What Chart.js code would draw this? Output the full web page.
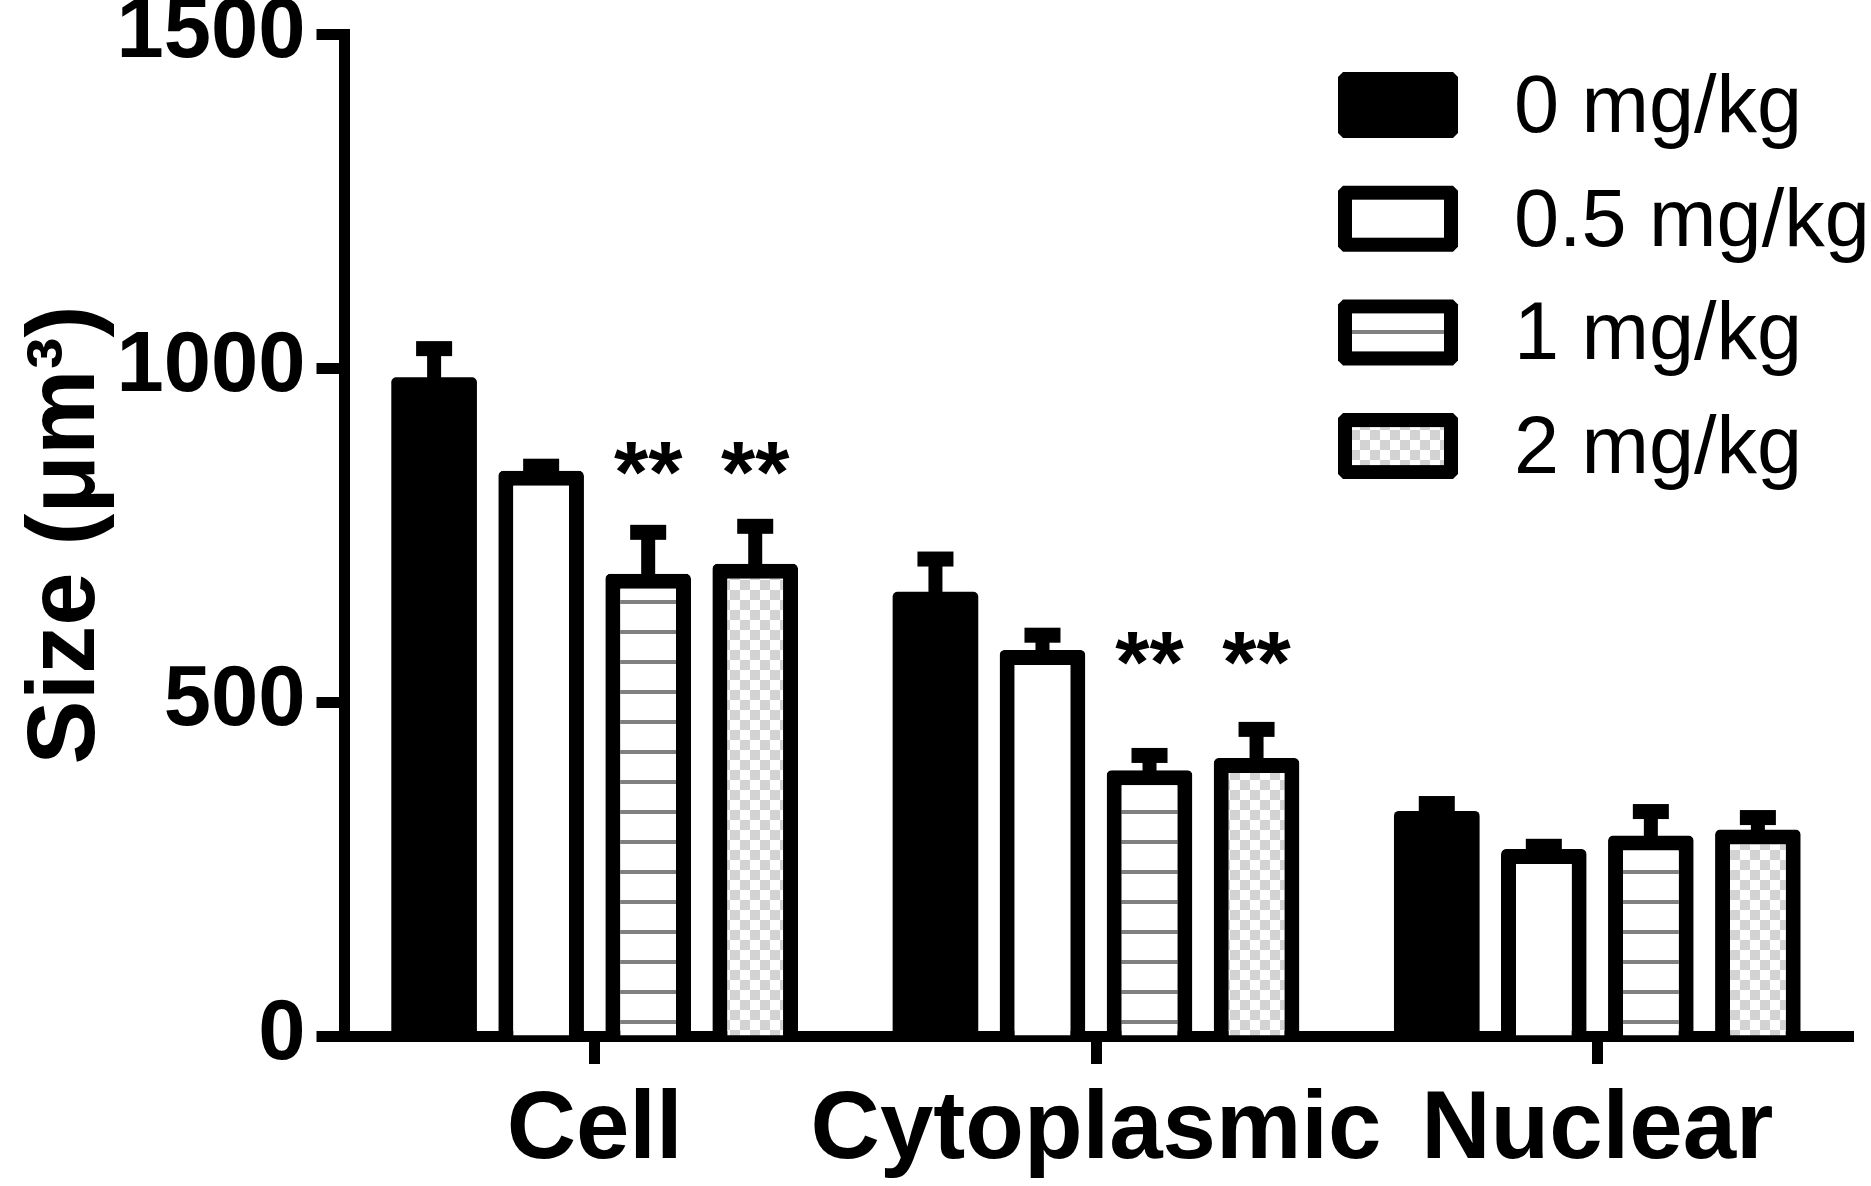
<!DOCTYPE html>
<html><head><meta charset="utf-8">
<script src="https://cdn.jsdelivr.net/npm/chart.js@4.4.0/dist/chart.umd.min.js"></script>
<style>html,body{margin:0;padding:0;background:#fff;overflow:hidden}#wrap{width:1871px;height:1186px;position:relative;background:#fff}</style>
</head><body><div id="wrap"><canvas id="c"></canvas></div>
<script>
// ---- data ----
const categories = ['Cell', 'Cytoplasmic', 'Nuclear'];
const seriesLabels = ['0 mg/kg', '0.5 mg/kg', '1 mg/kg', '2 mg/kg'];
const mean0  = [986, 665, 337];
const mean05 = [846, 578, 280];
const mean1  = [692, 398, 300];
const mean2  = [707, 416, 309];
const err0  = [43, 49, 11];
const err05 = [7, 22, 4];
const err1  = [62, 22, 36];
const err2  = [56, 43, 18];
const sig1 = ['**', '**', ''];
const sig2 = ['**', '**', ''];
const sigLevel = [874, 590, null];
const yTicks = [0, 500, 1000, 1500];

// ---- patterns ----
function hatchPattern() {
  const c = document.createElement('canvas'); c.width = 8; c.height = 30;
  const x = c.getContext('2d');
  x.fillStyle = '#ffffff'; x.fillRect(0, 0, 8, 30);
  x.fillStyle = '#808080'; x.fillRect(0, 0, 8, 4);
  return x.createPattern(c, 'repeat');
}
function checkerPattern() {
  const c = document.createElement('canvas'); c.width = 20; c.height = 20;
  const x = c.getContext('2d');
  x.fillStyle = '#ffffff'; x.fillRect(0, 0, 20, 20);
  x.fillStyle = '#d3d3d3'; x.fillRect(0, 0, 10, 10); x.fillRect(10, 10, 10, 10);
  return x.createPattern(c, 'repeat');
}

const FONT = "'Liberation Sans', Arial, Helvetica, sans-serif";
Chart.defaults.font.family = FONT;
Chart.defaults.color = '#000';

const common = {
  borderColor: '#000', borderWidth: 15, borderSkipped: 'bottom', borderRadius: 5,
  categoryPercentage: 0.854, barPercentage: 0.8
};
const datasets = [
  Object.assign({}, common, {label: seriesLabels[0], data: mean0,  err: err0,  backgroundColor: '#000', borderWidth: 0}),
  Object.assign({}, common, {label: seriesLabels[1], data: mean05, err: err05, backgroundColor: '#fff'}),
  Object.assign({}, common, {label: seriesLabels[2], data: mean1,  err: err1,  backgroundColor: hatchPattern(), sig: sig1}),
  Object.assign({}, common, {label: seriesLabels[3], data: mean2,  err: err2,  backgroundColor: checkerPattern(), sig: sig2})
];

const errorBars = {
  id: 'errorBars',
  afterDatasetsDraw(chart) {
    const ctx = chart.ctx, y = chart.scales.y;
    ctx.save();
    ctx.fillStyle = '#000';
    chart.data.datasets.forEach((ds, di) => {
      const meta = chart.getDatasetMeta(di);
      meta.data.forEach((bar, i) => {
        const v = ds.data[i], e = ds.err[i];
        const yTop = y.getPixelForValue(v + e);
        const yBar = y.getPixelForValue(v);
        ctx.fillRect(bar.x - 7, yTop, 14, yBar - yTop + 8);
        ctx.fillRect(bar.x - 18, yTop - 7.5, 36, 15);
      });
      if (ds.sig) {
        ctx.font = 'bold 88px ' + FONT;
        ctx.textAlign = 'center';
        ctx.textBaseline = 'alphabetic';
        meta.data.forEach((bar, i) => {
          if (ds.sig[i] && sigLevel[i] != null) {
            ctx.fillText(ds.sig[i], bar.x, y.getPixelForValue(sigLevel[i]) + 0.57 * 88);
          }
        });
      }
    });
    ctx.restore();
  }
};

function chamferRect(ctx, x, y, w, h, c) {
  ctx.beginPath();
  ctx.moveTo(x + c, y); ctx.lineTo(x + w - c, y); ctx.lineTo(x + w, y + c);
  ctx.lineTo(x + w, y + h - c); ctx.lineTo(x + w - c, y + h); ctx.lineTo(x + c, y + h);
  ctx.lineTo(x, y + h - c); ctx.lineTo(x, y + c); ctx.closePath();
}

const customLegend = {
  id: 'customLegend',
  afterDraw(chart) {
    const ctx = chart.ctx;
    const bx = 1338, bw = 120, bh = 66, top0 = 72, step = 113.7, bwid = 14;
    ctx.save();
    chart.data.datasets.forEach((ds, i) => {
      const ty = top0 + i * step;
      ctx.fillStyle = '#000';
      chamferRect(ctx, bx, ty, bw, bh, 5);
      ctx.fill();
      ctx.fillStyle = ds.backgroundColor;
      ctx.fillRect(bx + bwid, ty + bwid, bw - 2 * bwid, bh - 2 * bwid);
      ctx.fillStyle = '#000';
      ctx.font = '81px ' + FONT;
      ctx.textAlign = 'left';
      ctx.textBaseline = 'alphabetic';
      ctx.fillText(ds.label, 1514, ty + bh / 2 + 27);
    });
    ctx.restore();
  }
};

new Chart(document.getElementById('c'), {
  type: 'bar',
  data: { labels: categories, datasets },
  plugins: [errorBars, customLegend],
  options: {
    responsive: true, maintainAspectRatio: false, animation: false, devicePixelRatio: 1,
    events: [],
    layout: { padding: { top: 34, right: 23, bottom: 0, left: 0 } },
    plugins: { legend: { display: false }, tooltip: { enabled: false } },
    scales: {
      x: {
        z: 1,
        offset: true,
        grid: { display: true, drawOnChartArea: false, offset: false, lineWidth: 11, tickLength: 28, tickWidth: 11, tickColor: '#000', color: '#000' },
        border: { display: true, width: 11, color: '#000' },
        ticks: { autoSkip: false, maxRotation: 0, minRotation: 0, padding: 10, color: '#000',
                 font: { size: 96, weight: 'bold' } },
        afterFit(s) { s.height = 150; s.paddingLeft = 0; s.paddingRight = 0; }
      },
      y: {
        min: 0, max: 1500,
        afterBuildTicks(s) { s.ticks = yTicks.map(v => ({ value: v })); },
        grid: { display: true, drawOnChartArea: false, tickLength: 27.5, tickWidth: 11, tickColor: '#000' },
        border: { display: true, width: 11, color: '#000' },
        ticks: { padding: 11, color: '#000', font: { size: 85, weight: 'bold' },
                 callback: (v) => String(v) },
        title: { display: true, text: 'Size (μm³)', color: '#000',
                 font: { size: 96, weight: 'bold' }, padding: { top: 10, bottom: 0 } },
        afterFit(s) { s.width = 344; s.paddingTop = 0; s.paddingBottom = 0; }
      }
    }
  }
});
</script>
</body></html>
